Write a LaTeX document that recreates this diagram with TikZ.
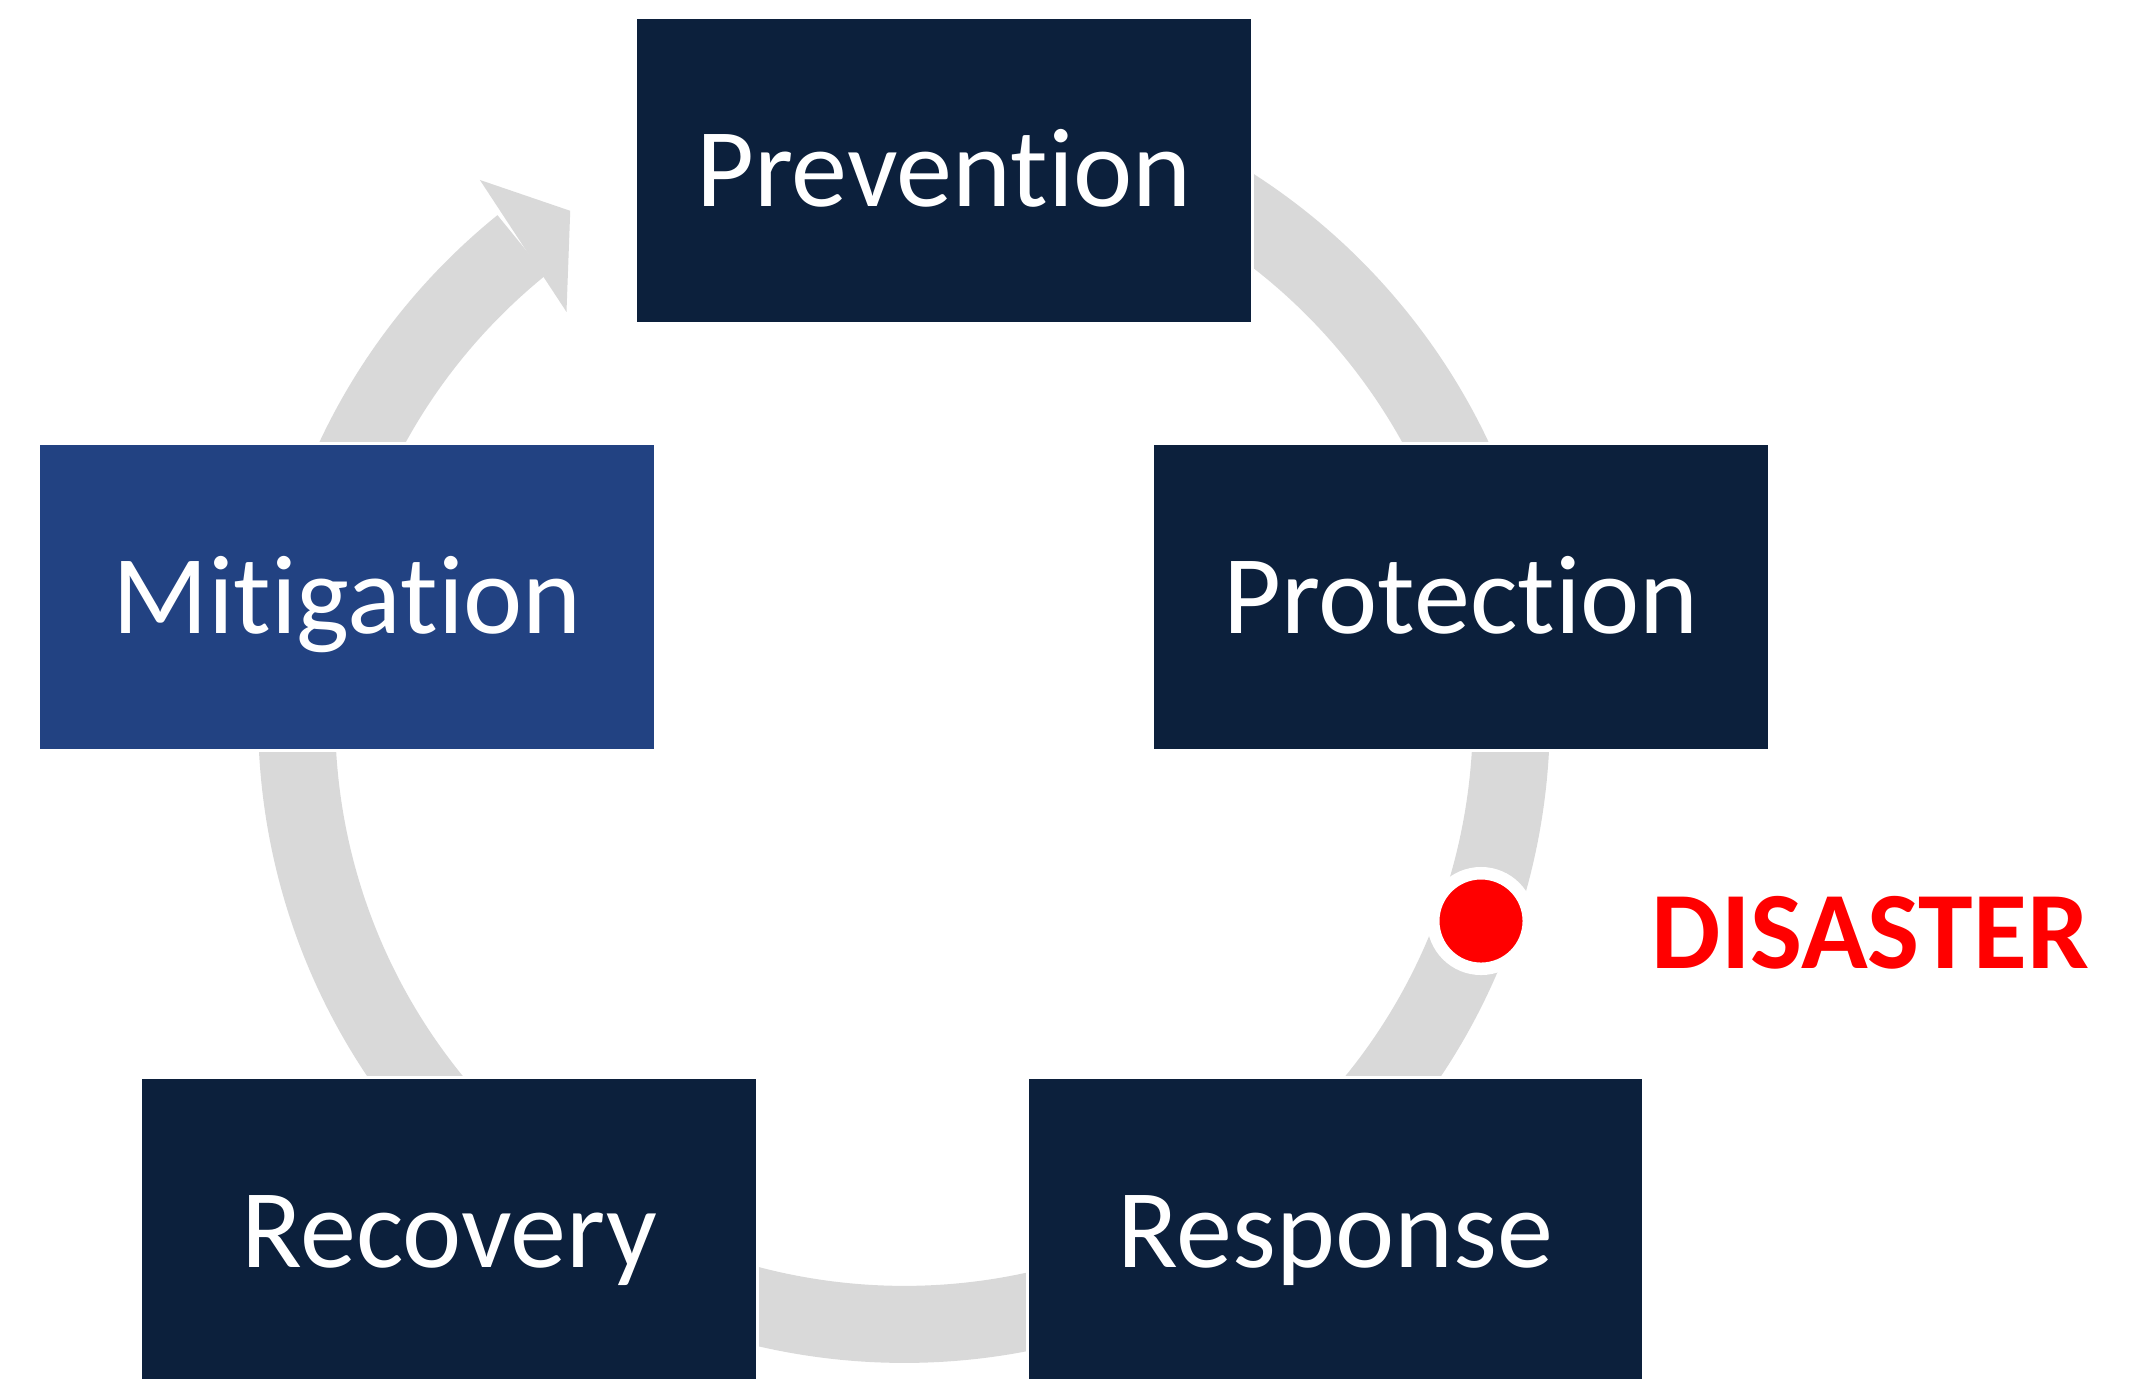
\documentclass[tikz,border=0pt]{standalone}
\usepackage{fontspec}
\setmainfont{Carlito}[Ligatures=NoCommon]
\usetikzlibrary{positioning}
\definecolor{navy}{HTML}{0C203C}
\definecolor{midblue}{HTML}{224282}
\definecolor{ringgrey}{HTML}{D9D9D9}

\begin{document}
\begin{tikzpicture}[x=0.01cm,y=0.01cm,
  phase/.style={fill=navy,draw=white,line width=0.03cm,minimum width=6.16cm,minimum height=3.06cm,
    inner sep=0pt,text=white,font=\fontsize{31.9}{38}\selectfont,text height=0.72cm,text depth=0pt},
  ring/.style={draw=ringgrey,line width=0.77cm}]
\useasboundingbox (0,0) rectangle (2131,-1378);
\clip (0,0) rectangle (2131,-1378);
\coordinate (ctr) at (904,-717);
\draw[ring] (ctr) ++(129:6.07cm) arc[start angle=129,end angle=460,radius=6.07cm];
\path (ctr) ++(128.3:6.84cm) coordinate (headout)
      (ctr) ++(129.8:5.27cm) coordinate (headin)
      (ctr) ++(123.4:6.06cm) coordinate (headtip);
\fill[ringgrey] (headout) -- (headtip) -- (headin) -- cycle;
\node[circle,fill=red,draw=white,line width=0.125cm,minimum size=0.955cm,inner sep=0pt] (hit) at (1481,-921) {};
\node[anchor=base west,inner sep=0pt,text=red,font=\bfseries\fontsize{31.3}{38}\selectfont] (disaster) at (1651,-968) {DISASTER};
\node[phase] (prevention) at (944,-170.5) {Prevention};
\node[phase] (protection) at (1461,-597) {Protection};
\node[phase,fill=midblue] (mitigation) at (347,-597) {Mitigation};
\node[phase] (recovery) at (449,-1231) {Recovery};
\node[phase] (response) at (1335.5,-1231) {Response};
\end{tikzpicture}
\end{document}
